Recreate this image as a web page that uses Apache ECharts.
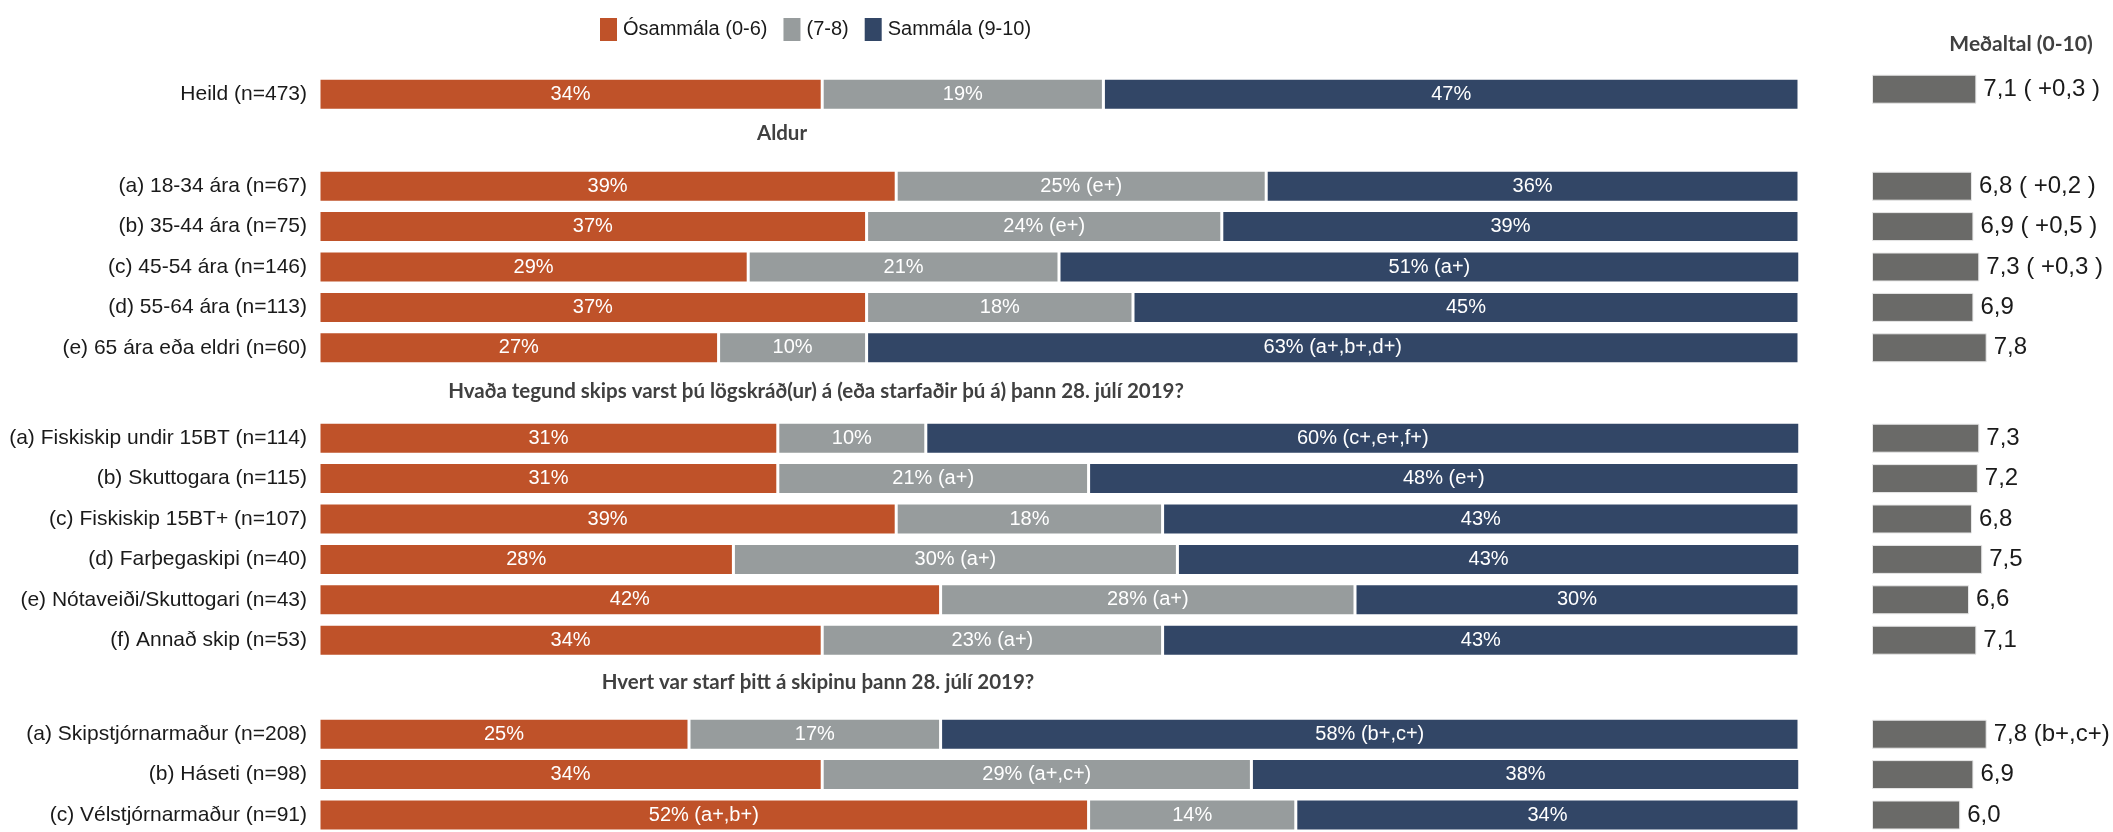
<!DOCTYPE html>
<html>
<head>
<meta charset="utf-8">
<script src="https://cdn.jsdelivr.net/npm/echarts/dist/echarts.min.js"></script>
<style>
html,body{margin:0;padding:0;background:#fff;}
#c{width:2113px;height:832px;}
</style>
</head>
<body>
<div id="c"></div>
<script>
// ---------- DATA ----------
const legendNames = ['Ósammála (0-6)', '(7-8)', 'Sammála (9-10)'];
const meanTitle = 'Meðaltal (0-10)';
const groupHeadings = ['', 'Aldur', 'Hvaða tegund skips varst þú lögskráð(ur) á (eða starfaðir þú á) þann 28. júlí 2019?', 'Hvert var starf þitt á skipinu þann 28. júlí 2019?'];

const catHeild = ['Heild (n=473)'];
const catAge = ['(a) 18-34 ára (n=67)', '(b) 35-44 ára (n=75)', '(c) 45-54 ára (n=146)', '(d) 55-64 ára (n=113)', '(e) 65 ára eða eldri (n=60)'];
const catShip = ['(a) Fiskiskip undir 15BT (n=114)', '(b) Skuttogara (n=115)', '(c) Fiskiskip 15BT+ (n=107)', '(d) Farþegaskipi (n=40)', '(e) Nótaveiði/Skuttogari (n=43)', '(f) Annað skip (n=53)'];
const catJob = ['(a) Skipstjórnarmaður (n=208)', '(b) Háseti (n=98)', '(c) Vélstjórnarmaður (n=91)'];

const disagreeHeild = [34];
const disagreeAge = [39, 37, 29, 37, 27];
const disagreeShip = [31, 31, 39, 28, 42, 34];
const disagreeJob = [25, 34, 52];

const neutralHeild = [19];
const neutralAge = [25, 24, 21, 18, 10];
const neutralShip = [10, 21, 18, 30, 28, 23];
const neutralJob = [17, 29, 14];

const agreeHeild = [47];
const agreeAge = [36, 39, 51, 45, 63];
const agreeShip = [60, 48, 43, 43, 30, 43];
const agreeJob = [58, 38, 34];

const disagreeSigHeild = [''];
const disagreeSigAge = ['', '', '', '', ''];
const disagreeSigShip = ['', '', '', '', '', ''];
const disagreeSigJob = ['', '', '(a+,b+)'];

const neutralSigHeild = [''];
const neutralSigAge = ['(e+)', '(e+)', '', '', ''];
const neutralSigShip = ['', '(a+)', '', '(a+)', '(a+)', '(a+)'];
const neutralSigJob = ['', '(a+,c+)', ''];

const agreeSigHeild = [''];
const agreeSigAge = ['', '', '(a+)', '', '(a+,b+,d+)'];
const agreeSigShip = ['(c+,e+,f+)', '(e+)', '', '', '', ''];
const agreeSigJob = ['(b+,c+)', '', ''];

const meanHeild = [7.1];
const meanAge = [6.8, 6.9, 7.3, 6.9, 7.8];
const meanShip = [7.3, 7.2, 6.8, 7.5, 6.6, 7.1];
const meanJob = [7.8, 6.9, 6.0];

const meanNoteHeild = ['( +0,3 )'];
const meanNoteAge = ['( +0,2 )', '( +0,5 )', '( +0,3 )', '', ''];
const meanNoteShip = ['', '', '', '', '', ''];
const meanNoteJob = ['(b+,c+)', '', ''];

// ---------- LAYOUT / STYLE ----------
const colors = ['#BF5229', '#979C9D', '#324666'];
const meanColor = '#6A6A68';
const regular = '"Liberation Sans", Arial, sans-serif';
const bold = 'Lato, "Open Sans", sans-serif';

const groups = [
  {cats: catHeild, vals: [disagreeHeild, neutralHeild, agreeHeild], sig: [disagreeSigHeild, neutralSigHeild, agreeSigHeild], mean: meanHeild, note: meanNoteHeild},
  {cats: catAge, vals: [disagreeAge, neutralAge, agreeAge], sig: [disagreeSigAge, neutralSigAge, agreeSigAge], mean: meanAge, note: meanNoteAge},
  {cats: catShip, vals: [disagreeShip, neutralShip, agreeShip], sig: [disagreeSigShip, neutralSigShip, agreeSigShip], mean: meanShip, note: meanNoteShip},
  {cats: catJob, vals: [disagreeJob, neutralJob, agreeJob], sig: [disagreeSigJob, neutralSigJob, agreeSigJob], mean: meanJob, note: meanNoteJob}
];
const slot = 40.4;
const groupTop = [74, 166, 418, 714];
const meanTopShift = [-5, 0, 0, 0];
const headingY = [0, 133, 391, 682];
const headingX = [0, 782, 816, 818];

const grid = [], xAxis = [], yAxis = [], series = [];
groups.forEach((g, gi) => {
  const h = g.cats.length * slot;
  grid.push({left: 319, width: 1480, top: groupTop[gi], height: h, containLabel: false, outerBoundsMode: 'none'});
  xAxis.push({type: 'value', gridIndex: gi, min: 0, max: 100, show: false});
  yAxis.push({type: 'category', gridIndex: gi, data: g.cats, inverse: true,
    axisLine: {show: false}, axisTick: {show: false}, splitLine: {show: false},
    axisLabel: {margin: 12, fontSize: 21, fontFamily: regular, color: '#1a1a1a'}});
  g.vals.forEach((arr, si) => {
    series.push({
      type: 'bar', name: legendNames[si], stack: 'g' + gi,
      xAxisIndex: gi, yAxisIndex: gi, barWidth: 32, clip: true,
      itemStyle: {color: colors[si], borderColor: '#fff', borderWidth: 1.5},
      label: {show: true, position: 'inside', color: '#fff', fontSize: 20, fontFamily: regular,
        formatter: p => p.value + '%' + (g.sig[si][p.dataIndex] ? ' ' + g.sig[si][p.dataIndex] : '')},
      data: arr
    });
  });
});
groups.forEach((g, gi) => {
  const idx = 4 + gi;
  const h = g.cats.length * slot;
  grid.push({left: 1872, width: 147, top: groupTop[gi] + meanTopShift[gi], height: h, containLabel: false, outerBoundsMode: 'none'});
  xAxis.push({type: 'value', gridIndex: idx, min: 0, max: 10, show: false});
  yAxis.push({type: 'category', gridIndex: idx, data: g.cats, inverse: true, show: false});
  series.push({
    type: 'bar', name: 'mean' + gi, xAxisIndex: idx, yAxisIndex: idx, barWidth: 29,
    itemStyle: {color: meanColor, borderColor: '#e8e8e8', borderWidth: 1},
    label: {show: true, position: 'right', distance: 7, color: '#1a1a1a', fontSize: 24, fontFamily: regular,
      formatter: p => p.value.toFixed(1).replace('.', ',') + (g.note[p.dataIndex] ? ' ' + g.note[p.dataIndex] : '')},
    data: g.mean
  });
});

const graphic = [];
groupHeadings.forEach((t, i) => {
  if (!t) return;
  graphic.push({type: 'text', x: headingX[i], y: headingY[i],
    style: {text: t, fontSize: 20.5, fontWeight: 'bold', fontFamily: bold, fill: '#404040', textAlign: 'center', textVerticalAlign: 'middle'}});
});
graphic.push({type: 'text', x: 2021, y: 44,
  style: {text: meanTitle, fontSize: 21, fontWeight: 'bold', fontFamily: bold, fill: '#404040', textAlign: 'center', textVerticalAlign: 'middle'}});

const chart = echarts.init(document.getElementById('c'), null, {renderer: 'canvas'});
chart.setOption({
  animation: false,
  backgroundColor: '#fff',
  legend: {data: legendNames, left: 593, top: 11, icon: 'rect', itemWidth: 19, itemHeight: 25, itemGap: 14,
    textStyle: {fontSize: 20, fontFamily: regular, color: '#1a1a1a'}},
  grid, xAxis, yAxis, series, graphic
});
</script>
</body>
</html>
